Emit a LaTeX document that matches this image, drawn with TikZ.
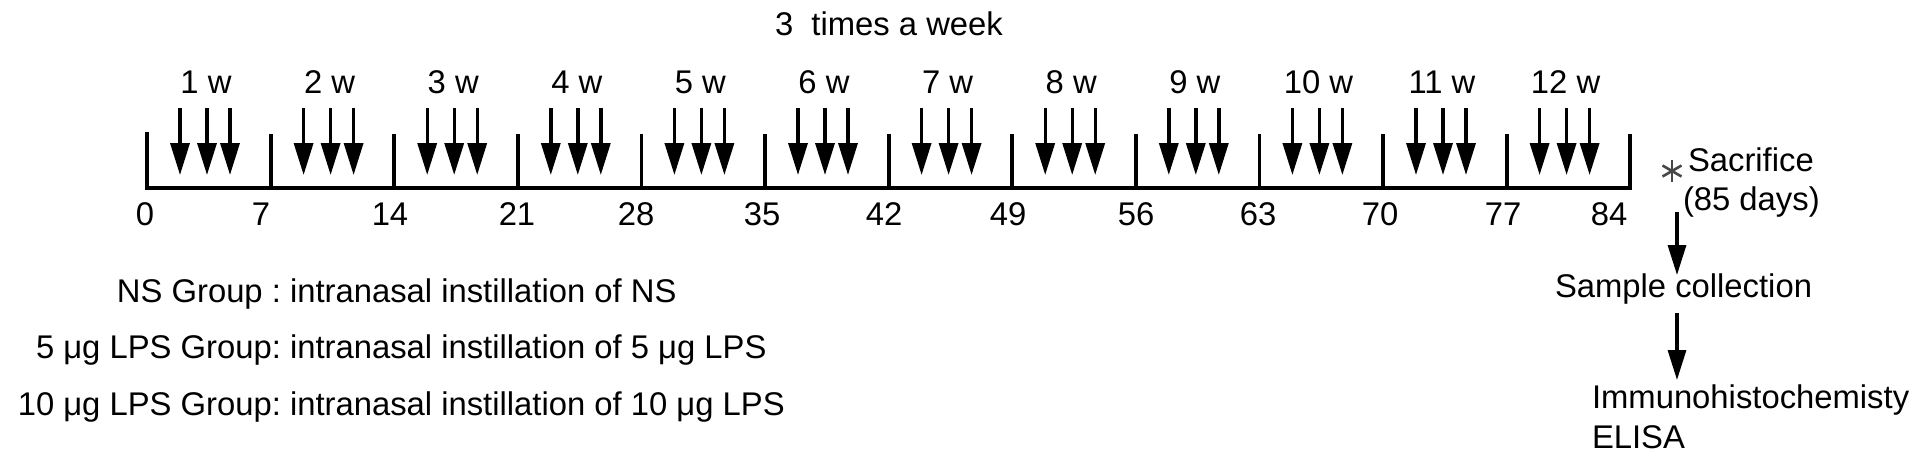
\documentclass[tikz,border=0pt]{standalone}
\usepackage{fontspec}
\setmainfont{Liberation Sans}
\usetikzlibrary{arrows.meta}
\begin{document}
\begin{tikzpicture}[x=0.5pt,y=-0.5pt,
  every node/.style={inner sep=0pt, outer sep=0pt, font=\fontsize{16.4pt}{19pt}\selectfont},
  axis/.style={line width=1.9pt, line join=miter},
  dose/.style={line width=1.7pt, -{Triangle[length=16pt,width=9.5pt]}},
  flow/.style={line width=1.6pt, -{Triangle[length=15pt,width=9pt]}},
  star/.style={line width=1.3pt, black!72},
]
\useasboundingbox (0,0) rectangle (1924,462);

% title
\node[anchor=base west] (title) at (775,35) {3~~times a week};

% ticks coordinates
\foreach \k in {0,...,12}{
  \pgfmathsetmacro\tx{147+123.6*\k}
  \coordinate (t\k) at (\tx,188);
  \coordinate (tt\k) at (\tx,134);
}
\coordinate (tt0) at (147,132);
\draw[axis] (tt0) -- (t0) -- (t12) -- (tt12);
\foreach \k in {1,...,11}{
  \draw[axis] (tt\k) -- (t\k);
}

% weekly arrows and labels
\foreach \w in {1,...,12}{
  \pgfmathsetmacro\tx{147+123.6*(\w-1)}
  \node[anchor=base] (w\w) at (\tx+59,93) {\w\ w};
  \foreach \i/\dx in {1/33,2/60,3/83}{
    \coordinate (s\w-\i) at (\tx+\dx,108);
    \coordinate (e\w-\i) at (\tx+\dx,175);
    \draw[dose] (s\w-\i) -- (e\w-\i);
  }
}

% day numbers
\foreach \n/\x in {0/145,7/261,14/390,21/517,28/636,35/762,42/884,49/1008,56/1136,63/1258,70/1380,77/1503,84/1609}{
  \node[anchor=base] (n\n) at (\x,225) {\n};
}

% right side
\node (ast) at (1672,171) {};
\draw[star] ([shift={(0,-11)}]ast.center) -- ([shift={(0,11)}]ast.center);
\draw[star] ([shift={(-9.5,-5.5)}]ast.center) -- ([shift={(9.5,5.5)}]ast.center);
\draw[star] ([shift={(-9.5,5.5)}]ast.center) -- ([shift={(9.5,-5.5)}]ast.center);
\node[anchor=base west] (sac) at (1688,171) {Sacrifice};
\node[anchor=base west] (days) at (1683,210) {(85 days)};
\coordinate (f1s) at (1677,212);
\coordinate (f1e) at (1677,275);
\draw[flow] (f1s) -- (f1e);
\node[anchor=base west] (sample) at (1555,297) {Sample collection};
\coordinate (f2s) at (1677,313);
\coordinate (f2e) at (1677,380);
\draw[flow] (f2s) -- (f2e);
\node[anchor=base west] (ihc) at (1592,408) {Immunohistochemisty};
\node[anchor=base west] (elisa) at (1592,448) {ELISA};

% groups
\node[anchor=base east] (g1) at (281,302) {NS Group :};
\node[anchor=base west] (d1) at (290,302) {intranasal instillation of NS};
\node[anchor=base east] (g2) at (281,358) {5 μg LPS Group:};
\node[anchor=base west] (d2) at (290,358) {intranasal instillation of 5 μg LPS};
\node[anchor=base east] (g3) at (281,415) {10 μg LPS Group:};
\node[anchor=base west] (d3) at (290,415) {intranasal instillation of 10 μg LPS};
\end{tikzpicture}
\end{document}
